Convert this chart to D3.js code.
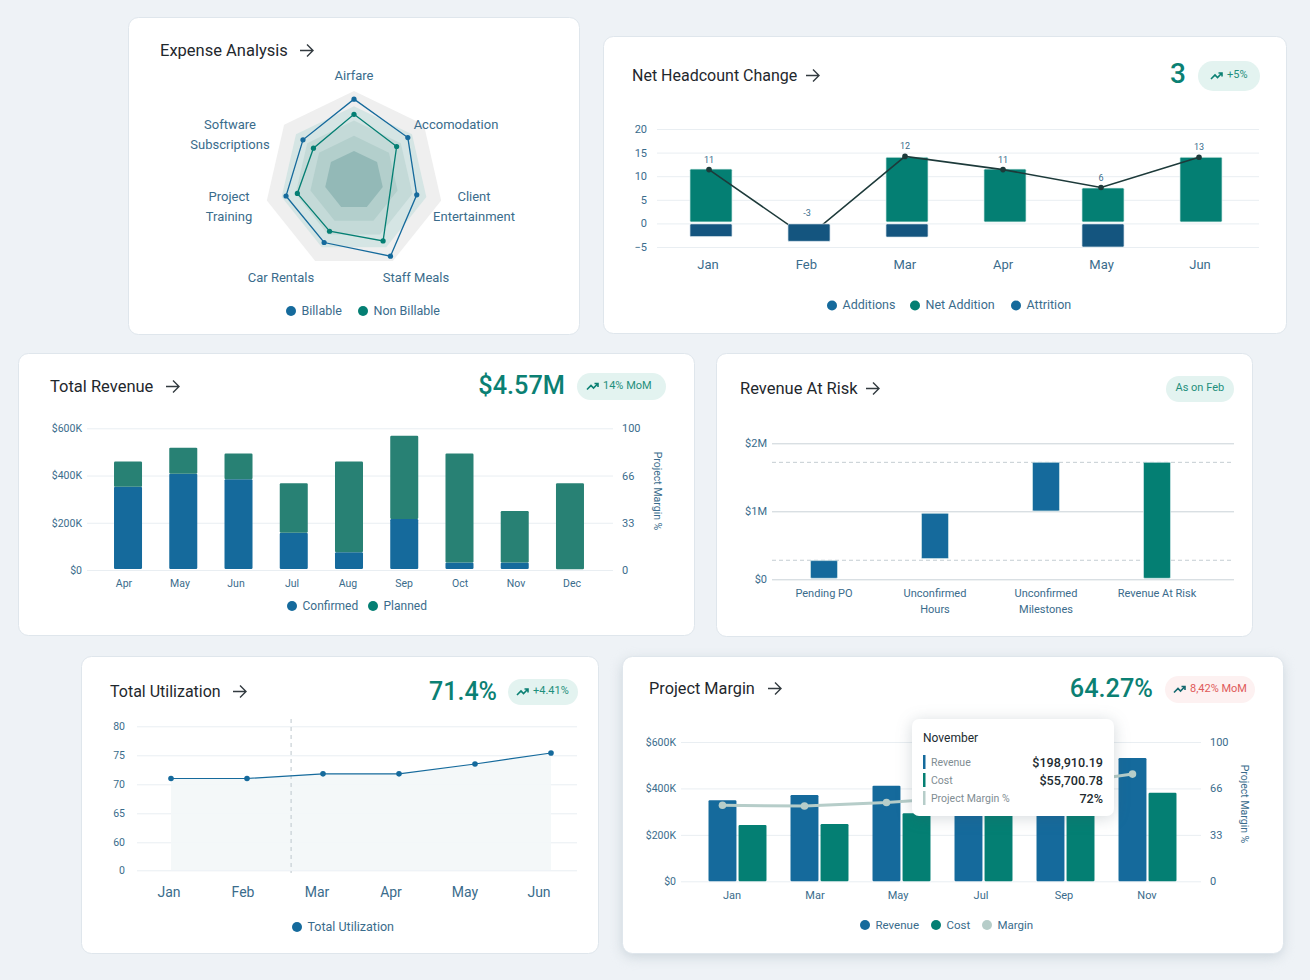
<!DOCTYPE html>
<html>
<head>
<meta charset="utf-8">
<script src="https://cdn.jsdelivr.net/npm/d3@7"></script>
<style>
  body { margin: 0; background: #eef2f6; }
  svg { display: block; font-family: Roboto, sans-serif; }
  .grid .domain { display: none; }
  .grid text { fill: #3a6c8c; }
</style>
</head>
<body>
<svg id="board" width="1310" height="980"></svg>
<script>
// Expense Analysis
var radarAxes = ["Airfare", "Accomodation", "Client Entertainment", "Staff Meals", "Car Rentals", "Project Training", "Software Subscriptions"];
var radarBillable = [91, 77, 72, 94, 77, 78, 73];
var radarNonBillable = [74, 61, null, 75, 63, 65, 58];
var radarLevels = [100, 83, 67, 50, 33];

// Net Headcount Change
var hcMonths = ["Jan", "Feb", "Mar", "Apr", "May", "Jun"];
var hcNet = [11.5, 0, 14, 11.5, 7.5, 14];
var hcAttrition = [-2.8, -3.8, -2.9, 0, -5, 0];
var hcLine = [11.4, -3, 14.2, 11.4, 7.6, 14];
var hcLabels = ["11", "-3", "12", "11", "6", "13"];
var hcTicks = [-5, 0, 5, 10, 15, 20];

// Total Revenue
var revMonths = ["Apr", "May", "Jun", "Jul", "Aug", "Sep", "Oct", "Nov", "Dec"];
var revConfirmed = [352, 408, 384, 158, 75, 216, 32, 32, 3];
var revPlanned = [107, 110, 109, 209, 384, 352, 461, 218, 364];
var revTicks = [0, 200, 400, 600];
var marginTicks = [0, 33, 66, 100];

// Revenue At Risk
var riskNames = [["Pending PO"], ["Unconfirmed", "Hours"], ["Unconfirmed", "Milestones"], ["Revenue At Risk"]];
var riskStart = [0, 0.29, 0.99, 0];
var riskEnd = [0.275, 0.97, 1.72, 1.72];
var riskDashes = [0.28, 1.72];
var riskTicks = [0, 1, 2];

// Total Utilization
var utilMonths = ["Jan", "Feb", "Mar", "Apr", "May", "Jun"];
var utilValues = [71, 71, 71.8, 71.8, 73.5, 75.4];
var utilTicks = [0, 60, 65, 70, 75, 80];

// Project Margin
var pmMonths = ["Jan", "Mar", "May", "Jul", "Sep", "Nov"];
var pmRevenue = [349, 372, 412, 440, 470, 531];
var pmCost = [243, 247, 293, 330, 340, 381];
var pmMargin = [54, 53.5, 56, 60, 68, 76.5];

var BLUE = "#156a9c", TEAL = "#047f73", PLANNED = "#288174", NAVY = "#14557f", GREY = "#b6cdc9";
var TICK = "#3a6c8c", EDGE = "#d3e8ea";

var svg = d3.select("#board");

function card(x, y, w, h, shadow) {
    if (shadow) {
        svg.append("rect").attr("x", x).attr("y", y + 4).attr("width", w).attr("height", h).attr("rx", 10)
            .attr("fill", "#ccd5dc").style("filter", "blur(6px)");
    }
    svg.append("rect").attr("x", x + 0.5).attr("y", y + 0.5).attr("width", w).attr("height", h).attr("rx", 10)
        .attr("fill", "#fff").attr("stroke", "#dfe6ec");
}

function title(label, x, y, arrowX, size) {
    svg.append("text").attr("x", x).attr("y", y).attr("font-size", size || 16.5).attr("font-weight", 400)
        .attr("fill", "#1f282d").text(label);
    svg.append("path").attr("transform", "translate(" + arrowX + "," + (y - 5.5) + ")")
        .attr("d", "M0 0H13M7 -6L13 0L7 6").attr("fill", "none").attr("stroke", "#333b40").attr("stroke-width", 1.4);
}

function headline(label, xEnd, y, size) {
    svg.append("text").attr("x", xEnd).attr("y", y).attr("text-anchor", "end").attr("font-size", size)
        .attr("font-weight", 500).attr("fill", "#0b8073").text(label);
}

function chip(x, y, w, h, label, textX, opts) {
    opts = opts || {};
    svg.append("rect").attr("x", x).attr("y", y).attr("width", w).attr("height", h).attr("rx", h / 2)
        .attr("fill", opts.fill || "#e3f3f0");
    if (!opts.noIcon) {
        svg.append("path").attr("transform", "translate(" + (textX - 16) + "," + (y + h / 2 - 4) + ")")
            .attr("d", "M0 7L4 3L6.5 5.5L11 1M7.5 1H11V4.5").attr("fill", "none")
            .attr("stroke", opts.icon || "#0b8073").attr("stroke-width", 1.6);
    }
    svg.append("text").attr("x", textX).attr("y", y + h / 2 + 2).attr("font-size", 11)
        .attr("fill", opts.color || "#1f8f7c").text(label);
}

function legend(items, y, size) {
    items.forEach(function (d) {
        svg.append("circle").attr("cx", d[0]).attr("cy", y).attr("r", 5).attr("fill", d[2]);
        svg.append("text").attr("x", d[0] + 10.5).attr("y", y + 3.8).attr("font-size", size).attr("fill", TICK).text(d[1]);
    });
}

function gridLeft(scale, ticks, format, x, xEnd, size, color, pad) {
    var g = svg.append("g").attr("class", "grid").attr("transform", "translate(" + x + ",0)")
        .call(d3.axisLeft(scale).tickValues(ticks).tickFormat(format).tickSize(-(xEnd - x)).tickPadding(pad || 5));
    g.selectAll("line").attr("stroke", color || "#e9eef2");
    g.selectAll("text").attr("font-size", size).attr("font-family", "Roboto, sans-serif");
    return g;
}

function axisRight(scale, ticks, x, size) {
    var g = svg.append("g").attr("class", "grid").attr("transform", "translate(" + x + ",0)")
        .call(d3.axisRight(scale).tickValues(ticks).tickSize(0).tickPadding(0));
    g.selectAll("text").attr("font-size", size).attr("font-family", "Roboto, sans-serif");
}

function monthLabels(scale, names, y, size) {
    svg.append("g").selectAll("text").data(names).join("text")
        .attr("x", function (d) { return scale(d); }).attr("y", y).attr("text-anchor", "middle")
        .attr("font-size", size).attr("fill", TICK).text(function (d) { return d; });
}

function sideLabel(x, y) {
    svg.append("text").attr("transform", "translate(" + x + "," + y + ") rotate(90)").attr("text-anchor", "middle")
        .attr("font-size", 10.5).attr("fill", TICK).text("Project Margin %");
}

function bars(data, xFn, width, yTop, yBottom, fill, edge) {
    return svg.append("g").selectAll("rect").data(data).join("rect")
        .attr("x", xFn).attr("width", width)
        .attr("y", yTop)
        .attr("height", function (d, i) { return Math.max(0, yBottom(d, i) - yTop(d, i)); })
        .attr("rx", 1.2).attr("fill", fill)
        .attr("stroke", edge || EDGE).attr("stroke-width", 0.7);
}

// the right margin axis shares the left axis gridlines, 33 and 66 land on them
function marginScale(y) {
    return d3.scaleLinear().domain(marginTicks).range(revTicks.map(function (d) { return y(d); }));
}

// ---- Expense Analysis ----
function drawRadar() {
    card(128, 17, 451, 317);
    title("Expense Analysis", 160, 56, 300);
    var cx = 354, cy = 180.5;
    var r = d3.scaleLinear().domain([0, 100]).range([0, 89.4]);
    var step = 2 * Math.PI / radarAxes.length;
    var g = svg.append("g").attr("transform", "translate(" + cx + "," + cy + ")");
    var radial = d3.lineRadial().curve(d3.curveLinearClosed);
    var ringFill = ["#efefef", "#d5e5e4", "#c4dad8", "#b3cfcc", "#93b9b7"];

    radarLevels.forEach(function (lvl, i) {
        g.append("path").attr("fill", ringFill[i])
            .attr("d", radial(radarAxes.map(function (a, j) { return [j * step, r(lvl)]; })));
    });

    [[radarBillable, BLUE], [radarNonBillable, TEAL]].forEach(function (s) {
        var pts = [];
        s[0].forEach(function (v, j) { if (v !== null) pts.push([j * step, r(v)]); });
        g.append("path").attr("d", radial(pts)).attr("fill", "none").attr("stroke", s[1]).attr("stroke-width", 1.3);
        g.selectAll(null).data(pts).join("circle")
            .attr("cx", function (p) { return d3.pointRadial(p[0], p[1])[0]; })
            .attr("cy", function (p) { return d3.pointRadial(p[0], p[1])[1]; })
            .attr("r", 2.6).attr("fill", s[1]);
    });

    // wrapped axis names sit by hand, the way the picture has them
    var labelSpots = [[354, 76, ["Airfare"]], [456, 125, ["Accomodation"]], [474, 197, ["Client", "Entertainment"]],
        [416, 278, ["Staff Meals"]], [281, 278, ["Car Rentals"]], [229, 197, ["Project", "Training"]],
        [230, 125, ["Software", "Subscriptions"]]];
    labelSpots.forEach(function (d) {
        d[2].forEach(function (line, i) {
            svg.append("text").attr("x", d[0]).attr("y", d[1] + 4 + i * 20).attr("text-anchor", "middle")
                .attr("font-size", 13).attr("fill", TICK).text(line);
        });
    });
    legend([[291, "Billable", BLUE], [363, "Non Billable", TEAL]], 311, 12.5);
}

// ---- Net Headcount Change ----
function drawHeadcount() {
    card(603, 36, 683, 297);
    title("Net Headcount Change", 632, 81, 806, 16);
    headline("3", 1186, 83, 28);
    chip(1198, 61, 62, 30, "+5%", 1227);

    var y = d3.scaleLinear().domain([-5, 20]).range([247, 129]);
    var x = d3.scaleBand().domain(hcMonths).range([662, 1250]).paddingInner(0.571).paddingOuter(0.2855);
    gridLeft(y, hcTicks, d3.format("d"), 657, 1259, 11, null, 10);

    var mid = function (i) { return x(hcMonths[i]) + x.bandwidth() / 2; };
    bars(hcNet, function (d, i) { return x(hcMonths[i]); }, x.bandwidth(),
        function (d) { return y(d); }, function () { return y(0) - 1.5; }, TEAL, "#d8efeb");

    var line = d3.line().x(function (d, i) { return mid(i) - 2; }).y(function (d) { return y(d); });
    svg.append("path").attr("d", line(hcLine)).attr("fill", "none").attr("stroke", "#1d3a3a").attr("stroke-width", 1.6);
    svg.append("g").selectAll("circle").data(hcLine).join("circle")
        .attr("cx", function (d, i) { return mid(i) - 2; }).attr("cy", function (d) { return y(d); })
        .attr("r", 2.8).attr("fill", "#1d3a3a");

    bars(hcAttrition, function (d, i) { return x(hcMonths[i]); }, x.bandwidth(),
        function () { return y(0) + 0.5; }, function (d) { return y(d); }, NAVY, "#dbe7ee")
        .attr("display", function (d) { return d === 0 ? "none" : null; });

    svg.append("g").selectAll("text").data(hcLabels).join("text")
        .attr("x", function (d, i) { return mid(i) - 2; })
        .attr("y", function (d, i) { return y(Math.max(hcLine[i], 0)) - 7; })
        .attr("text-anchor", "middle").attr("font-size", 9).attr("fill", TICK)
        .text(function (d) { return d; });

    monthLabels(d3.scalePoint().domain(hcMonths).range([708, 1200]), hcMonths, 269, 13);
    legend([[832, "Additions", BLUE], [915, "Net Addition", TEAL], [1016, "Attrition", BLUE]], 305.5, 12.5);
}

// ---- Total Revenue ----
function drawRevenue() {
    card(18, 353, 676, 282);
    title("Total Revenue", 50, 392, 166);
    headline("$4.57M", 565, 394, 25.3);
    chip(577, 373, 89, 27, "14% MoM", 603);

    var y = d3.scaleLinear().domain([0, 600]).range([570, 428.3]);
    var x = d3.scaleBand().domain(revMonths).range([100.4, 597.6]).paddingInner(0.493).paddingOuter(0.2465);
    gridLeft(y, revTicks, function (d) { return "$" + d + (d ? "K" : ""); }, 87, 613, 10.5);
    axisRight(marginScale(y), marginTicks, 622, 11);
    sideLabel(654, 491);

    var xOf = function (d, i) { return x(revMonths[i]); };
    bars(revConfirmed, xOf, x.bandwidth(), function (d) { return y(d); }, function () { return y(0) - 1; }, BLUE, "none");
    bars(revPlanned, xOf, x.bandwidth(),
        function (d, i) { return y(revConfirmed[i] + d); }, function (d, i) { return y(revConfirmed[i]); }, PLANNED, "none");

    monthLabels(d3.scalePoint().domain(revMonths).range([124, 572]), revMonths, 587, 10.5);
    legend([[292, "Confirmed", BLUE], [373, "Planned", TEAL]], 606, 12);
}

// ---- Revenue At Risk ----
function drawRisk() {
    card(716, 353, 536, 283);
    title("Revenue At Risk", 740, 394, 866);
    chip(1166, 376, 68, 26, "As on Feb", 1175.5, { noIcon: true });

    var y = d3.scaleLinear().domain([0, 2]).range([579.3, 443.3]);
    var idx = riskNames.map(function (d, i) { return i; });
    var x = d3.scaleBand().domain(idx).range([768.5, 1212.5]).paddingInner(0.757).paddingOuter(0.3785);
    gridLeft(y, riskTicks, function (d) { return "$" + d + (d ? "M" : ""); }, 772, 1234, 11, "#c9d2d7");

    svg.append("g").selectAll("line").data(riskDashes).join("line")
        .attr("x1", 772).attr("x2", 1234)
        .attr("y1", function (d) { return y(d); }).attr("y2", function (d) { return y(d); })
        .attr("stroke", "#c4cdd2").attr("stroke-dasharray", "4 3");

    bars(riskEnd, function (d, i) { return x(i); }, x.bandwidth(),
        function (d) { return y(d); }, function (d, i) { return y(riskStart[i]) - 1; },
        function (d, i) { return i === riskEnd.length - 1 ? TEAL : BLUE; });

    riskNames.forEach(function (lines, i) {
        lines.forEach(function (t, k) {
            svg.append("text").attr("x", x(i) + x.bandwidth() / 2).attr("y", 597 + k * 16)
                .attr("text-anchor", "middle").attr("font-size", 11).attr("fill", TICK).text(t);
        });
    });
}

// ---- Total Utilization ----
function drawUtilization() {
    card(81, 656, 517, 297);
    title("Total Utilization", 110, 697, 233, 16);
    headline("71.4%", 497, 700, 25);
    chip(508, 679, 70, 26, "+4.41%", 533);

    // the axis jumps from 0 straight to 60
    var y = d3.scaleLinear().domain([0, 60, 80]).range([870.3, 842.3, 726.3]);
    var x = d3.scalePoint().domain(utilMonths).range([171, 551]);
    var pos = d3.scaleLinear().domain([0, utilMonths.length - 1]).range([171, 551]);
    gridLeft(y, utilTicks, d3.format("d"), 137, 577, 10.5, null, 12);

    var area = d3.area().x(function (d, i) { return x(utilMonths[i]); }).y0(y(0)).y1(function (d) { return y(d); });
    svg.append("path").attr("d", area(utilValues)).attr("fill", "#f3f7f9").attr("fill-opacity", 0.92);

    svg.append("line").attr("x1", pos(1.58)).attr("x2", pos(1.58)).attr("y1", 719).attr("y2", 873)
        .attr("stroke", "#bcc6cc").attr("stroke-dasharray", "4 4");

    var line = d3.line().x(function (d, i) { return x(utilMonths[i]); }).y(function (d) { return y(d); });
    svg.append("path").attr("d", line(utilValues)).attr("fill", "none").attr("stroke", BLUE).attr("stroke-width", 1.2);
    svg.append("g").selectAll("circle").data(utilValues).join("circle")
        .attr("cx", function (d, i) { return x(utilMonths[i]); }).attr("cy", function (d) { return y(d); })
        .attr("r", 2.8).attr("fill", BLUE);

    monthLabels(d3.scalePoint().domain(utilMonths).range([169, 539]), utilMonths, 897, 14);
    legend([[297, "Total Utilization", BLUE]], 927, 12.5);
}

// ---- Project Margin ----
function drawMargin() {
    card(622, 656, 661, 297, true);
    title("Project Margin", 649, 694, 768, 16.3);
    headline("64.27%", 1153, 697, 25.3);
    chip(1165, 676, 90, 27, "8,42% MoM", 1190, { fill: "#fdf1f1", color: "#e05a5a", icon: "#14686f" });

    var y = d3.scaleLinear().domain([0, 600]).range([881.3, 742]);
    var yR = marginScale(y);
    var x = d3.scaleBand().domain(pmMonths).range([696.5, 1188.5]).paddingInner(0.293).paddingOuter(0.1465);
    var inner = d3.scaleBand().domain(["rev", "cost"]).range([0, x.bandwidth()]).paddingInner(0.07);
    gridLeft(y, revTicks, function (d) { return "$" + d + (d ? "K" : ""); }, 681, 1201, 10.5);
    axisRight(yR, marginTicks, 1210, 11);
    sideLabel(1241, 804);

    bars(pmRevenue, function (d, i) { return x(pmMonths[i]) + inner("rev"); }, inner.bandwidth(),
        function (d) { return y(d); }, function () { return y(0); }, BLUE, "none");
    bars(pmCost, function (d, i) { return x(pmMonths[i]) + inner("cost"); }, inner.bandwidth(),
        function (d) { return y(d); }, function () { return y(0); }, TEAL, "none");

    var mx = function (d, i) { return x(pmMonths[i]) + inner("rev") + inner.bandwidth() / 2; };
    var line = d3.line().x(mx).y(function (d) { return yR(d); });
    svg.append("path").attr("d", line(pmMargin)).attr("fill", "none").attr("stroke", GREY).attr("stroke-width", 3);
    svg.append("g").selectAll("circle").data(pmMargin).join("circle")
        .attr("cx", mx).attr("cy", function (d) { return yR(d); }).attr("r", 3.8).attr("fill", GREY);

    monthLabels(d3.scalePoint().domain(pmMonths).range([732, 1147]), pmMonths, 899, 11);
    legend([[865, "Revenue", BLUE], [936, "Cost", TEAL], [987, "Margin", GREY]], 925, 11.5);

    drawTooltip();
}

function drawTooltip() {
    svg.append("rect").attr("x", 912).attr("y", 719).attr("width", 202).attr("height", 97).attr("rx", 7)
        .attr("fill", "#fff").style("filter", "drop-shadow(0 2px 8px rgba(60,80,95,0.22))");
    svg.append("text").attr("x", 923).attr("y", 742).attr("font-size", 12).attr("fill", "#222b30").text("November");
    var rows = [["Revenue", "$198,910.19", BLUE], ["Cost", "$55,700.78", TEAL], ["Project Margin %", "72%", GREY]];
    rows.forEach(function (d, i) {
        var top = 755 + i * 18;
        svg.append("rect").attr("x", 923).attr("y", top).attr("width", 2.5).attr("height", 14).attr("fill", d[2]);
        svg.append("text").attr("x", 931).attr("y", top + 10.5).attr("font-size", 10.5).attr("fill", "#7f8d93").text(d[0]);
        svg.append("text").attr("x", 1103).attr("y", top + 12).attr("text-anchor", "end").attr("font-size", 12.6)
            .attr("font-weight", 500).attr("fill", "#222b30").text(d[1]);
    });
}

drawRadar();
drawHeadcount();
drawRevenue();
drawRisk();
drawUtilization();
drawMargin();
</script>
</body>
</html>
